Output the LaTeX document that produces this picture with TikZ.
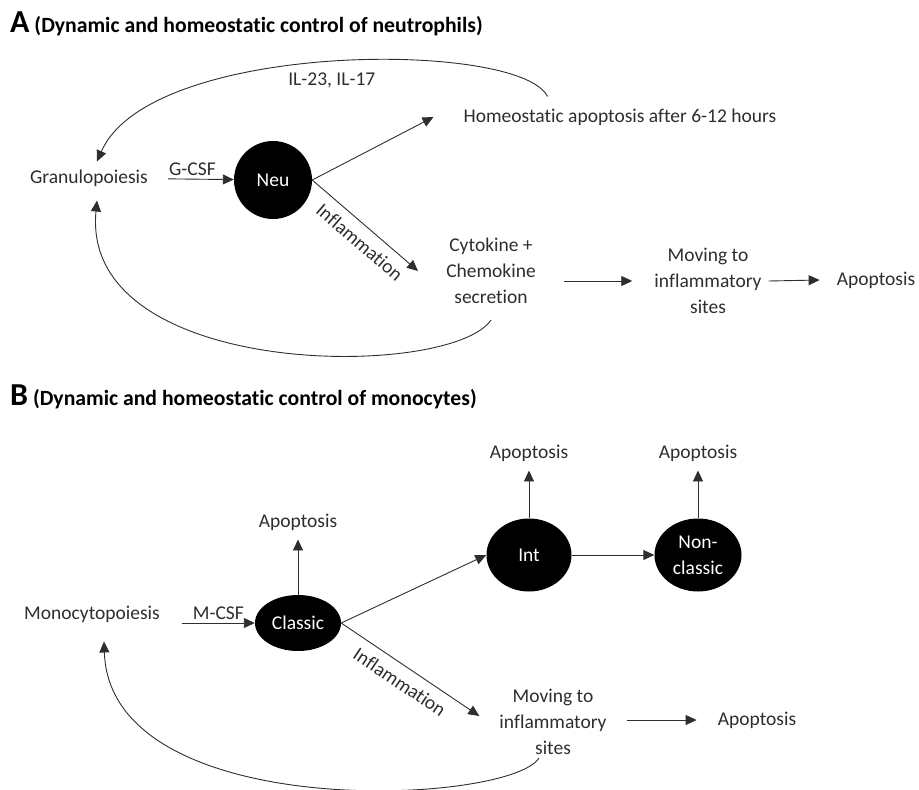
\documentclass[tikz,border=0pt]{standalone}
\usepackage{fontspec}
\setmainfont{Carlito}[Ligatures=NoCommon]
\usepackage{tikz}
\usetikzlibrary{arrows.meta,positioning,shapes.geometric}
\definecolor{ink}{HTML}{2E2E2E}

\begin{document}
\begin{tikzpicture}[x=1pt,y=-1pt,on grid,
   every node/.style={font=\fontsize{19.5}{26}\selectfont,text=ink,align=center,inner sep=3pt},
   cell/.style={ellipse,fill=black,text=white,inner sep=0pt},
   arr/.style={-{Triangle[length=11pt,width=10pt]},color=ink,line width=0.9pt},
   ttl/.style={anchor=base west,text=black,font=\fontsize{21.7}{24}\selectfont\bfseries}]
   \useasboundingbox (0,0) rectangle (919,790);

   % panel A: neutrophils
   \node[ttl] (titleA) at (7,32) {{\fontsize{32}{32}\selectfont A} (Dynamic and homeostatic control of neutrophils)};
   \node (gran) at (89,178) {Granulopoiesis};
   \node[cell,minimum size=78pt] (neu) at (273,180) {Neu};
   \node (homeo) at (620,117) {Homeostatic apoptosis after 6-12 hours};
   \node (cyto) at (491,271) {Cytokine +\\Chemokine\\secretion};
   \node (movA) at (708,281) {Moving to\\inflammatory\\sites};
   \node (apoA) at (876,280) {Apoptosis};

   \path[arr]
   (gran) edge[shorten <=17pt] node[above] {G-CSF} (neu)
   (neu.east) edge ([xshift=-27pt]homeo.west)
   (neu.east) edge node[sloped,below=6pt,pos=0.55] {Inflammation} ([xshift=-25pt]cyto.west)
   ([xshift=25pt]cyto.east |- movA.west) edge ([xshift=-19pt]movA.west)
   ([xshift=4pt]movA.east) edge ([xshift=-14pt]apoA.west);

   \draw[arr] ([xshift=87pt,yshift=9pt]homeo.north west) .. controls (520,40) and (150,40) .. ([xshift=8pt,yshift=5pt]gran.north)
      node[pos=0.5,below=7pt] {IL-23, IL-17};
   \draw[arr] ([yshift=-13pt]cyto.south) .. controls (450,380) and (80,380) .. ([xshift=8pt,yshift=-11pt]gran.south);

   % panel B: monocytes
   \node[ttl] (titleB) at (7,405) {{\fontsize{32}{32}\selectfont B} (Dynamic and homeostatic control of monocytes)};
   \node (mono) at (92,614) {Monocytopoiesis};
   \node[cell,minimum width=86pt,minimum height=56pt] (classic) at (298,623) {Classic};
   \node[cell,minimum width=85pt,minimum height=73pt] (int) at (529,555) {Int};
   \node[cell,minimum width=87pt,minimum height=73pt] (non) at (698,555) {Non-\\classic};
   \node (apoB1) [above =101pt of classic] {Apoptosis};
   \node (apoB2) [above =102pt of int] {Apoptosis};
   \node (apoB3) [above =102pt of non] {Apoptosis};
   \node (movB) at (553,722) {Moving to\\inflammatory\\sites};
   \node (apoB4) at (757,720) {Apoptosis};

   \path[arr]
   ([xshift=19pt]mono.east |- classic.west) edge node[above] {M-CSF} (classic.west)
   (classic) edge[shorten >=6pt] (apoB1)
   (int) edge[shorten >=6pt] (apoB2)
   (non) edge[shorten >=6pt] (apoB3)
   (classic.east) edge (int.west)
   (int) edge (non)
   (classic.east) edge node[sloped,below=6pt,pos=0.49] {Inflammation} ([xshift=-17pt,yshift=6pt]movB.west)
   ([xshift=17pt]movB.east |- apoB4.west) edge ([xshift=-18pt]apoB4.west);

   \draw[arr] ([xshift=-14pt]movB.south) .. controls (510,805) and (110,825) .. ([xshift=12pt,yshift=-16pt]mono.south);
\end{tikzpicture}
\end{document}
